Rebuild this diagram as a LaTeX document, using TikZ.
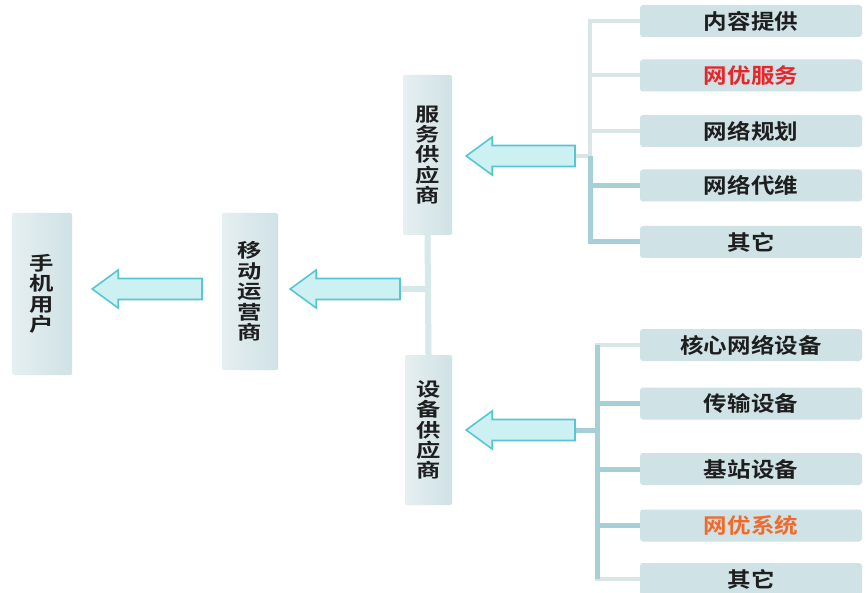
\documentclass[tikz,border=0pt]{standalone}
\usepackage{fontspec}
\usetikzlibrary{calc}
\newfontfamily\cjk{Noto Sans CJK SC Bold}[FakeStretch=1.12]
\newfontfamily\cjkv{Noto Sans CJK SC Bold}[FakeStretch=1.28]
\definecolor{boxL}{HTML}{E6EFF1}
\definecolor{boxM}{HTML}{EAF2F3}
\definecolor{boxD}{HTML}{CFE2E5}
\definecolor{txt}{HTML}{1E1E1E}
\definecolor{netred}{HTML}{E8262A}
\definecolor{netorange}{HTML}{F26A2B}
\definecolor{arrowfill}{HTML}{CDF1F3}
\definecolor{arrowline}{HTML}{55C6D2}
\definecolor{lightline}{HTML}{D9E6E6}
\definecolor{tealline}{HTML}{A6D0D5}
\definecolor{vlinecol}{HTML}{D6E9EA}
\begin{document}
\begin{tikzpicture}[x=1pt,y=-1pt,
  vbox/.style={rounded corners=2pt, left color=boxL, right color=boxD,
    align=center, text=txt, font=\cjkv\fontsize{19}{20.4}\selectfont},
  hbox/.style={rounded corners=3pt, left color=boxD, middle color=boxM, right color=boxD,
    minimum width=222pt, minimum height=32pt, text=txt,
    font=\cjk\fontsize{21}{23}\selectfont},
  blockarrow/.style={draw=arrowline, fill=arrowfill, line width=1.6pt, line join=miter,
    to path={let \p1=(\tikztostart), \p2=(\tikztotarget) in
      (\x2,\y1) -- (\x2+26pt,\y1+19pt) -- (\x2+26pt,\y1+10.5pt) -- (\x1,\y1+10.5pt)
      -- (\x1,\y1-10.5pt) -- (\x2+26pt,\y1-10.5pt) -- (\x2+26pt,\y1-19pt) -- cycle}},
  thinline/.style={draw=lightline, line width=4pt},
  thickline/.style={draw=tealline, line width=5pt},
  vlink/.style={draw=vlinecol, line width=6pt}
]
\useasboundingbox[fill=white] (0,0) rectangle (866,593);

% vertical boxes
\node[vbox, minimum width=60pt, minimum height=162pt] (phone) at (42,294) {手\\机\\用\\户};
\node[vbox, minimum width=56pt, minimum height=157pt] (mobile) at (250,291.5) {移\\动\\运\\营\\商};
\node[vbox, minimum width=49pt, minimum height=160pt] (svc) at (427.5,155) {服\\务\\供\\应\\商};
\node[vbox, minimum width=47pt, minimum height=150pt] (equip) at (428.5,430) {设\\备\\供\\应\\商};

% right boxes, service side
\node[hbox] (s1) at (751,21) {内容提供};
\node[hbox, text=netred] (s2) at (751,75.5) {网优服务};
\node[hbox] (s3) at (751,131) {网络规划};
\node[hbox] (s4) at (751,185.5) {网络代维};
\node[hbox] (s5) at (751,242) {其它};

% right boxes, equipment side
\node[hbox] (e1) at (751,345) {核心网络设备};
\node[hbox] (e2) at (751,403.5) {传输设备};
\node[hbox] (e3) at (751,469) {基站设备};
\node[hbox, text=netorange] (e4) at (751,525.5) {网优系统};
\node[hbox] (e5) at (751,579) {其它};

% junction coordinates
\coordinate (sj) at (590,156);
\coordinate (st) at (575,156);
\coordinate (ej) at (597,430);
\coordinate (et) at (575,430);
\coordinate (mt) at (400,289);
\coordinate (pt) at (202,289);

% vertical link between suppliers
\draw[vlink] (svc.south) -- (equip.north);
\draw[vlink] (mt) -- (mt -| svc.south);

% service tree
\draw[thinline] (st) -- (sj);
\draw[thinline] (s1.west) -| (sj);
\draw[thinline] (s2.west) -| (sj);
\draw[thinline] (s3.west) -| (sj);
\draw[thickline] (s4.west) -| (sj);
\draw[thickline] (s5.west) -| (sj);

% equipment tree
\draw[thinline] (e1.west) -| (ej);
\draw[thinline] (e5.west) -| (ej);
\draw[thickline] (et) -- (ej);
\draw[thickline] (e2.west) -| (ej);
\draw[thickline] (e3.west) -| (ej);
\draw[thickline] (e4.west) -| (ej);
\draw[thickline] (e1.west -| ej) -- (e5.west -| ej);

% block arrows
\path[blockarrow] (pt) to ([xshift=20pt]phone.east);
\path[blockarrow] (mt) to ([xshift=12pt]mobile.east);
\path[blockarrow] (st) to ([xshift=14pt]svc.east);
\path[blockarrow] (et) to ([xshift=14pt]equip.east);
\end{tikzpicture}
\end{document}
